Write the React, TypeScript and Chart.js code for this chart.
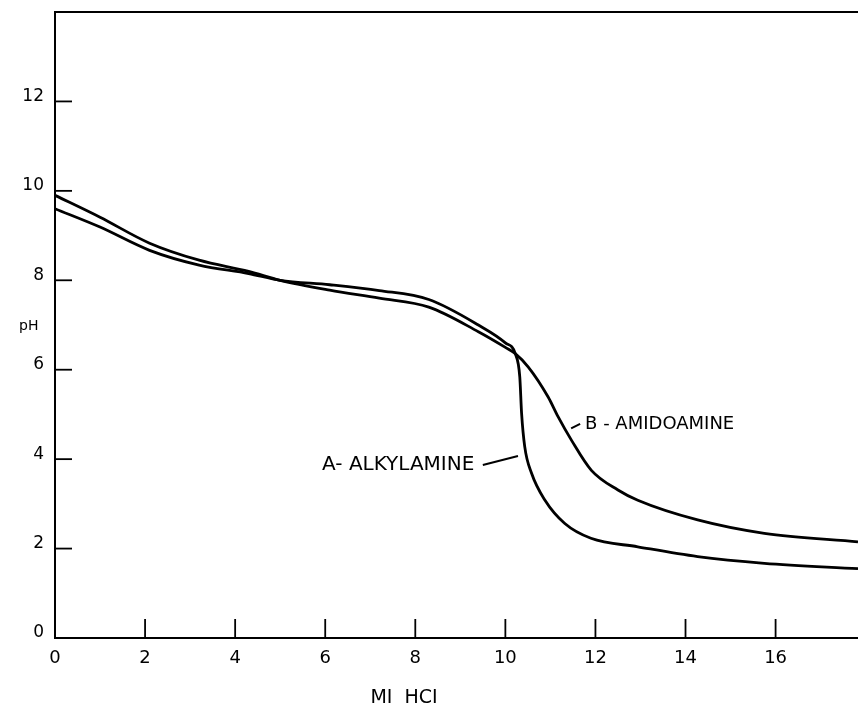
import React, { useEffect, useRef } from "react";
import { Chart, registerables } from "chart.js";

Chart.register(...registerables);

// ---- data ----
const xTickValues = [0, 2, 4, 6, 8, 10, 12, 14, 16];
const yTickValues = [0, 2, 4, 6, 8, 10, 12];

const alkylamineX = [0, 1, 2.1, 3.2, 4.3, 5.0, 6.1, 7.2, 8.3, 9.4, 10.0, 10.22, 10.32, 10.36, 10.43, 10.58, 10.88, 11.32, 11.9, 12.94, 14.27, 15.75, 17.83];
const alkylamineY = [9.6, 9.19, 8.67, 8.34, 8.15, 8.0, 7.9, 7.77, 7.57, 7.0, 6.6, 6.36, 5.84, 5.03, 4.28, 3.69, 3.08, 2.56, 2.23, 2.04, 1.82, 1.67, 1.55];

const amidoamineX = [0, 1, 2.1, 3.2, 4.3, 5.0, 6.1, 7.2, 8.3, 9.4, 10.0, 10.22, 10.51, 10.95, 11.17, 11.47, 11.91, 12.5, 12.94, 14.27, 15.75, 17.83];
const amidoamineY = [9.9, 9.41, 8.83, 8.45, 8.2, 8.0, 7.78, 7.6, 7.4, 6.85, 6.5, 6.36, 6.06, 5.39, 4.95, 4.42, 3.75, 3.31, 3.08, 2.64, 2.34, 2.15];

const labelA = "A- ALKYLAMINE";
const labelB = "B - AMIDOAMINE";
const xTitle = "MI  HCI";
const yTitle = "pH";

const FONT = "'DejaVu Sans', Verdana, sans-serif";

const framePlugin = {
  id: "frame",
  afterDraw(chart: any) {
    const { ctx, chartArea, scales } = chart;
    const xs = scales.x;
    const ys = scales.y;
    ctx.save();
    ctx.strokeStyle = "#000";
    ctx.lineWidth = 2;
    // top border
    ctx.beginPath();
    ctx.moveTo(chartArea.left - 1, chartArea.top);
    ctx.lineTo(chartArea.right, chartArea.top);
    ctx.stroke();
    // inward ticks
    ctx.lineWidth = 1.8;
    xs.ticks.forEach((t: any) => {
      if (t.value === 0) return;
      const px = xs.getPixelForValue(t.value);
      ctx.beginPath();
      ctx.moveTo(px, chartArea.bottom);
      ctx.lineTo(px, chartArea.bottom - 19);
      ctx.stroke();
    });
    ys.ticks.forEach((t: any) => {
      if (t.value === 0) return;
      const py = ys.getPixelForValue(t.value);
      ctx.beginPath();
      ctx.moveTo(chartArea.left, py);
      ctx.lineTo(chartArea.left + 17, py);
      ctx.stroke();
    });
    // annotation leaders
    ctx.lineWidth = 2;
    const seg = (x1: number, y1: number, x2: number, y2: number) => {
      ctx.beginPath();
      ctx.moveTo(xs.getPixelForValue(x1), ys.getPixelForValue(y1));
      ctx.lineTo(xs.getPixelForValue(x2), ys.getPixelForValue(y2));
      ctx.stroke();
    };
    seg(9.5, 3.87, 10.28, 4.07);
    seg(11.46, 4.69, 11.66, 4.79);
    // annotation texts
    ctx.fillStyle = "#000";
    ctx.textBaseline = "middle";
    ctx.textAlign = "left";
    ctx.font = `20px ${FONT}`;
    ctx.fillText(labelA, xs.getPixelForValue(5.93), ys.getPixelForValue(3.87));
    ctx.font = `18px ${FONT}`;
    ctx.fillText(labelB, xs.getPixelForValue(11.77), ys.getPixelForValue(4.78));
    // x-axis title
    ctx.font = `19px ${FONT}`;
    ctx.textAlign = "center";
    ctx.fillText(xTitle, xs.getPixelForValue(7.75), 698);
    // pH label
    ctx.textAlign = "left";
    ctx.font = `14px ${FONT}`;
    ctx.fillText(yTitle, 19, ys.getPixelForValue(6.97));
    ctx.restore();
  },
};

export default function App() {
  const canvasRef = useRef<HTMLCanvasElement | null>(null);

  useEffect(() => {
    if (!canvasRef.current) return;
    const chart = new Chart(canvasRef.current, {
      type: "line",
      data: {
        datasets: [
          {
            label: labelA,
            data: alkylamineX.map((x, i) => ({ x, y: alkylamineY[i] })),
            borderColor: "#000",
            borderWidth: 2.8,
            pointRadius: 0,
            cubicInterpolationMode: "monotone",
            fill: false,
          },
          {
            label: labelB,
            data: amidoamineX.map((x, i) => ({ x, y: amidoamineY[i] })),
            borderColor: "#000",
            borderWidth: 2.8,
            pointRadius: 0,
            cubicInterpolationMode: "monotone",
            fill: false,
          },
        ],
      },
      options: {
        animation: false,
        responsive: false,
        layout: { padding: { top: 12, left: 0, right: 0, bottom: 0 } },
        plugins: { legend: { display: false }, tooltip: { enabled: false } },
        scales: {
          x: {
            type: "linear",
            min: 0,
            max: 17.83,
            afterBuildTicks: (s: any) => {
              s.ticks = xTickValues.map((v) => ({ value: v }));
            },
            afterFit: (s: any) => {
              s.height = 69;
              s.paddingLeft = 0;
              s.paddingRight = 0;
            },
            grid: { display: false, drawTicks: false },
            border: { display: true, color: "#000", width: 2 },
            ticks: {
              color: "#000",
              font: { family: FONT, size: 18 },
              padding: 10,
              maxRotation: 0,
              autoSkip: false,
            },
            title: { display: false },
          },
          y: {
            type: "linear",
            min: 0,
            max: 14,
            afterBuildTicks: (s: any) => {
              s.ticks = yTickValues.map((v) => ({ value: v }));
            },
            afterFit: (s: any) => {
              s.width = 55;
              s.paddingTop = 0;
              s.paddingBottom = 0;
            },
            grid: { display: false, drawTicks: false },
            border: { display: true, color: "#000", width: 2 },
            ticks: {
              color: "#000",
              font: { family: FONT, size: 17 },
              padding: 11,
              labelOffset: -5,
              autoSkip: false,
            },
          },
        },
      },
      plugins: [framePlugin],
    } as any);
    return () => chart.destroy();
  }, []);

  return (
    <div style={{ position: "fixed", left: 0, top: 0, width: 858, height: 707, background: "#fff" }}>
      <canvas ref={canvasRef} width={858} height={707} style={{ display: "block", width: 858, height: 707 }} />
    </div>
  );
}
